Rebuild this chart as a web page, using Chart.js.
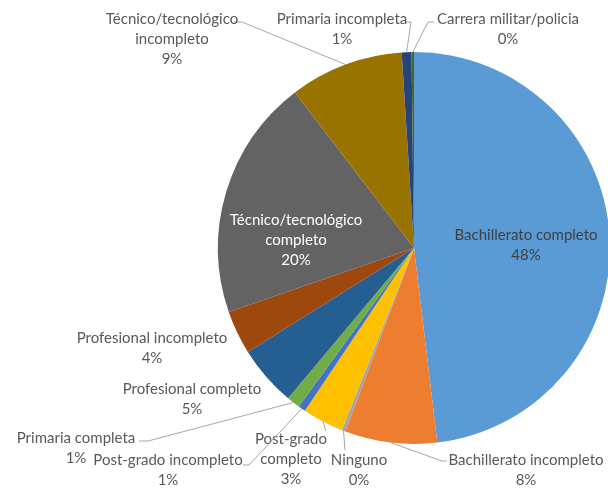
<!DOCTYPE html>
<html>
<head>
<meta charset="utf-8">
<script src="https://cdn.jsdelivr.net/npm/chart.js@4.4.1/dist/chart.umd.min.js"></script>
<style>
  html, body { margin: 0; padding: 0; background: #ffffff; }
  #wrap { width: 608px; height: 489px; }
</style>
</head>
<body>
<div id="wrap"><canvas id="chart" width="608" height="489"></canvas></div>
<script>
// Nivel educativo: categorías y participación (%)
const categories = [
  'Bachillerato completo',
  'Bachillerato incompleto',
  'Ninguno',
  'Post-grado completo',
  'Post-grado incompleto',
  'Primaria completa',
  'Profesional completo',
  'Profesional incompleto',
  'Técnico/tecnológico completo',
  'Técnico/tecnológico incompleto',
  'Primaria incompleta',
  'Carrera militar/policia'
];
const shares = [48.1, 7.6, 0.3, 3.4, 0.6, 1.1, 5.0, 3.6, 19.9, 9.4, 0.8, 0.2];
const sliceColors = [
  '#5B9BD5', '#ED7D31', '#A5A5A5', '#FFC000', '#4472C4', '#70AD47',
  '#255E91', '#9E480E', '#636363', '#997300', '#264478', '#43682B'
];

// Placement of each data label: text lines (name split), centre x, first-line y,
// text colour and the label-side points of the leader line (it ends on the slice edge).
const labelLayout = [
  { lines: ['Bachillerato completo'], x: 526, y: 235, color: '#404040', leader: null },
  { lines: ['Bachillerato incompleto'], x: 526, y: 460, color: '#595959', leader: [[447, 461], [442, 461]] },
  { lines: ['Ninguno'], x: 359, y: 460, color: '#595959', leader: [[345, 450]] },
  { lines: ['Post-grado', 'completo'], x: 291, y: 439, color: '#595959', leader: [[326, 431]] },
  { lines: ['Post-grado incompleto'], x: 168, y: 460, color: '#595959', leader: [[243, 465], [249, 465]] },
  { lines: ['Primaria completa'], x: 76, y: 438, color: '#595959', leader: [[139, 441], [148, 441]] },
  { lines: ['Profesional completo'], x: 192, y: 389, color: '#595959', leader: null },
  { lines: ['Profesional incompleto'], x: 152, y: 338, color: '#595959', leader: null },
  { lines: ['Técnico/tecnológico', 'completo'], x: 296, y: 220, color: '#FFFFFF', leader: null },
  { lines: ['Técnico/tecnológico', 'incompleto'], x: 172, y: 19, color: '#595959', leader: [[234, 22], [242, 22]] },
  { lines: ['Primaria incompleta'], x: 342, y: 19, color: '#595959', leader: [[405, 22], [411, 22]] },
  { lines: ['Carrera militar/policia'], x: 508, y: 19, color: '#595959', leader: [[434, 22], [428, 22]] }
];

const total = shares.reduce((a, b) => a + b, 0);
const pctText = v => Math.round(v / total * 100) + '%';

const pieLabels = {
  id: 'pieLabels',
  afterDatasetsDraw(chart) {
    const ctx = chart.ctx;
    const meta = chart.getDatasetMeta(0);
    const lineH = 20;
    ctx.save();
    ctx.font = '15px Lato, "Open Sans", sans-serif';
    ctx.textAlign = 'center';
    ctx.textBaseline = 'middle';
    meta.data.forEach((arc, i) => {
      const lay = labelLayout[i];
      const p = arc.getProps(['x', 'y', 'startAngle', 'endAngle', 'outerRadius'], true);
      const mid = (p.startAngle + p.endAngle) / 2;
      const ex = p.x + Math.cos(mid) * p.outerRadius;
      const ey = p.y + Math.sin(mid) * p.outerRadius;
      if (lay.leader) {
        ctx.strokeStyle = '#A6A6A6';
        ctx.lineWidth = 1;
        ctx.beginPath();
        ctx.moveTo(lay.leader[0][0], lay.leader[0][1]);
        for (let k = 1; k < lay.leader.length; k++) ctx.lineTo(lay.leader[k][0], lay.leader[k][1]);
        ctx.lineTo(ex, ey);
        ctx.stroke();
      }
      ctx.fillStyle = lay.color;
      const rows = lay.lines.concat([pctText(shares[i])]);
      rows.forEach((t, r) => ctx.fillText(t, lay.x, lay.y + r * lineH));
    });
    ctx.restore();
  }
};

new Chart(document.getElementById('chart'), {
  type: 'pie',
  data: {
    labels: categories,
    datasets: [{
      data: shares,
      backgroundColor: sliceColors,
      borderWidth: 0,
      radius: 196
    }]
  },
  options: {
    responsive: false,
    devicePixelRatio: 1,
    animation: false,
    layout: { padding: { left: 220, right: 0, top: 52, bottom: 45 } },
    plugins: {
      legend: { display: false },
      tooltip: { enabled: false }
    }
  },
  plugins: [pieLabels]
});
</script>
</body>
</html>
